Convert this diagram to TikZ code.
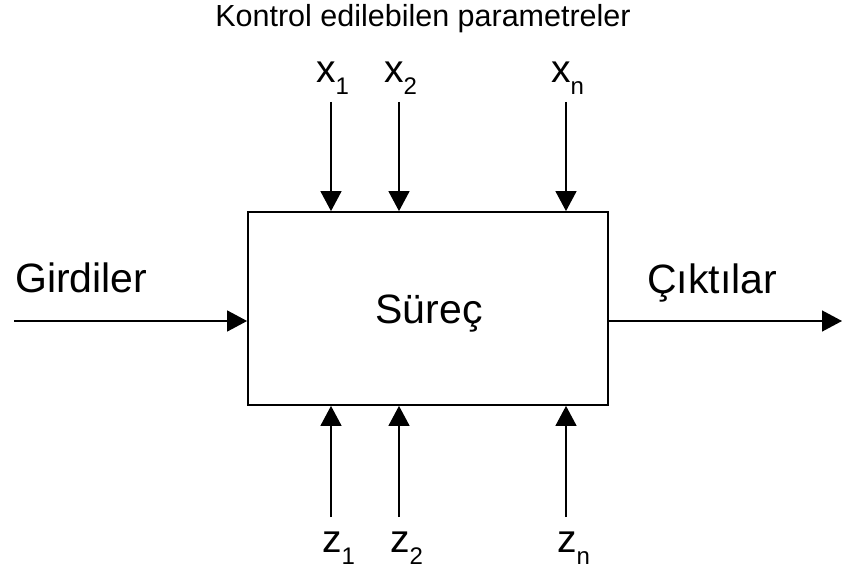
\documentclass[tikz,border=0pt]{standalone}
\usepackage{fontspec}
\setmainfont{Liberation Sans}
\usetikzlibrary{arrows.meta}
\newcommand{\varsub}[2]{#1\raisebox{-12pt}{\fontsize{24}{26}\selectfont #2}}
\tikzset{
    arr/.style = {line width=1.4pt, -{Triangle[length=20pt,width=21pt]}},
    lbl/.style = {inner sep=0pt, font=\fontsize{39}{42}\selectfont},
}
\begin{document}
\begin{tikzpicture}[x=1pt,y=1pt]
        \useasboundingbox (0,0) rectangle (842,574);
        \node[draw, line width=1.8pt, minimum width=360pt, minimum height=193pt,
              inner sep=0pt] (proc) at (428,265.5) {};
        \node[inner sep=0pt, anchor=base, font=\fontsize{41}{44}\selectfont] (name) at (429,251) {Süreç};
        \node[inner sep=0pt, anchor=base, font=\fontsize{30.5}{33}\selectfont] (title) at (423,547) {Kontrol edilebilen parametreler};

        % inputs and outputs
        \node[inner sep=0pt, anchor=base west, font=\fontsize{41}{44}\selectfont] (in) at (15,282) {Girdiler};
        \node[inner sep=0pt, anchor=base west, font=\fontsize{41}{44}\selectfont] (out) at (647,281) {Çıktılar};
        \coordinate (start) at (14,253);
        \coordinate (end) at (842,253);
        \draw[arr] (start) -- (start -| proc.west);
        \draw[arr] (proc.east |- end) -- (end);

        % controlled and uncontrolled parameters
        \foreach \n/\ax/\lx/\zx in {1/331/316/322, 2/399/384/390, n/566/551/557} {
            \node[lbl, anchor=base west] (x\n) at (\lx,491) {\varsub{x}{\n}};
            \node[lbl, anchor=base west] (z\n) at (\zx,22) {\varsub{z}{\n}};
            \coordinate (tx\n) at (\ax,472);
            \coordinate (bz\n) at (\ax,57);
            \draw[arr] (tx\n) -- (tx\n |- proc.north);
            \draw[arr] (bz\n) -- (bz\n |- proc.south);
        }
    \end{tikzpicture}
\end{document}
